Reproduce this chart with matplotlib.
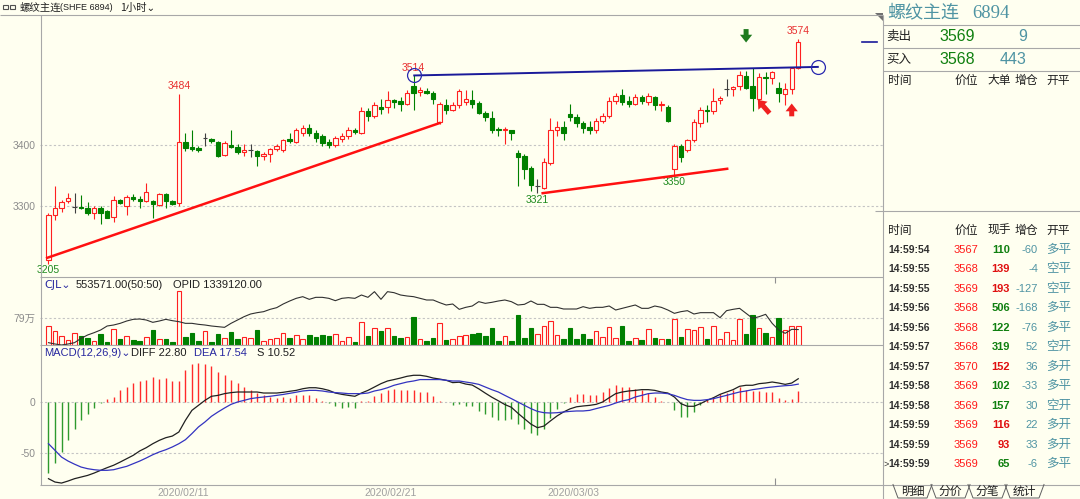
import matplotlib
matplotlib.use("Agg")
import matplotlib.pyplot as plt
import numpy as np

plt.rcParams["font.family"] = ["Liberation Sans", "Noto Sans CJK SC", "DejaVu Sans"]

W, H = 1080, 499
BG = "#FFFFF0"
RED = "#FF2020"
GREEN = "#008000"
DOJI = "#404040"
GRAY = "#8C8C8C"
LINE = "#A8A8A8"
TEAL = "#4F94A3"
NAVY = "#2828A0"

# 1-hour candles, rebar main contract
opens = [3212, 3285, 3296, 3308, 3298, 3298, 3296, 3288, 3296, 3291,
         3282, 3310, 3300, 3314, 3312, 3308, 3308, 3302, 3320, 3308,
         3305, 3405, 3396, 3395, 3411, 3410, 3405, 3384, 3400, 3396,
         3388, 3392, 3390, 3382, 3385, 3393, 3392, 3410, 3405, 3420,
         3428, 3420, 3414, 3405, 3400, 3410, 3414, 3425, 3420, 3455,
         3448, 3463, 3463, 3474, 3472, 3467, 3497, 3487, 3489, 3486,
         3437, 3466, 3458, 3466, 3471, 3473, 3469, 3452, 3444, 3427,
         3424, 3425, 3387, 3382, 3363, 3332, 3330, 3370, 3424, 3430,
         3450, 3446, 3436, 3430, 3425, 3440, 3448, 3472, 3482, 3472,
         3468, 3478, 3470, 3478, 3465, 3462, 3360, 3398, 3392, 3409,
         3436, 3458, 3456, 3473, 3492, 3491, 3497, 3513, 3496, 3476,
         3512, 3510, 3494, 3484, 3492, 3526]
highs = [3288, 3332, 3310, 3322, 3321, 3318, 3307, 3300, 3300, 3293,
         3316, 3312, 3318, 3320, 3316, 3338, 3310, 3322, 3322, 3310,
         3484, 3420, 3425, 3398, 3420, 3412, 3407, 3406, 3425, 3402,
         3402, 3402, 3392, 3388, 3395, 3402, 3410, 3420, 3428, 3432,
         3435, 3424, 3418, 3410, 3415, 3420, 3430, 3428, 3462, 3460,
         3470, 3476, 3488, 3476, 3478, 3490, 3514, 3495, 3493, 3488,
         3470, 3475, 3470, 3492, 3490, 3490, 3472, 3456, 3456, 3430,
         3430, 3425, 3392, 3385, 3366, 3345, 3378, 3444, 3440, 3440,
         3468, 3450, 3440, 3440, 3445, 3452, 3478, 3485, 3492, 3480,
         3484, 3482, 3485, 3480, 3472, 3465, 3402, 3402, 3410, 3443,
         3462, 3466, 3493, 3480, 3509, 3497, 3522, 3522, 3526, 3518,
         3520, 3521, 3503, 3501, 3526, 3574]
lows = [3205, 3277, 3290, 3305, 3289, 3295, 3285, 3278, 3270, 3280,
        3274, 3303, 3285, 3308, 3296, 3307, 3280, 3300, 3297, 3301,
        3300, 3390, 3390, 3389, 3398, 3404, 3380, 3382, 3395, 3385,
        3382, 3380, 3366, 3375, 3372, 3390, 3388, 3404, 3403, 3415,
        3415, 3405, 3398, 3395, 3397, 3405, 3410, 3418, 3418, 3440,
        3445, 3450, 3452, 3460, 3455, 3465, 3457, 3480, 3483, 3468,
        3435, 3450, 3455, 3460, 3465, 3460, 3450, 3440, 3420, 3415,
        3402, 3408, 3333, 3345, 3324, 3321, 3328, 3368, 3415, 3408,
        3440, 3430, 3420, 3418, 3420, 3436, 3445, 3468, 3466, 3462,
        3465, 3468, 3466, 3458, 3455, 3438, 3350, 3372, 3388, 3405,
        3430, 3437, 3450, 3468, 3480, 3480, 3490, 3492, 3456, 3470,
        3484, 3500, 3470, 3465, 3484, 3524]
closes = [3285, 3296, 3307, 3313, 3298, 3296, 3288, 3296, 3289, 3281,
          3310, 3305, 3314, 3311, 3308, 3323, 3303, 3320, 3308, 3304,
          3405, 3395, 3393, 3391, 3411, 3406, 3382, 3403, 3397, 3388,
          3392, 3392, 3382, 3385, 3393, 3398, 3408, 3406, 3425, 3428,
          3420, 3412, 3404, 3400, 3412, 3415, 3425, 3422, 3455, 3448,
          3465, 3459, 3474, 3470, 3468, 3485, 3486, 3490, 3485, 3475,
          3468, 3458, 3466, 3488, 3475, 3468, 3452, 3446, 3424, 3424,
          3426, 3419, 3381, 3361, 3334, 3332, 3372, 3424, 3430, 3419,
          3446, 3436, 3428, 3425, 3440, 3448, 3472, 3480, 3470, 3468,
          3478, 3472, 3480, 3465, 3468, 3440, 3398, 3380, 3408, 3438,
          3457, 3456, 3472, 3477, 3492, 3495, 3514, 3494, 3477, 3512,
          3510, 3520, 3485, 3492, 3526, 3569]

# volume (10k lots) and open interest (10k lots)
volume = [56, 40, 25, 15, 35, 25, 20, 13, 33, 10,
          47, 18, 27, 15, 12, 22, 43, 18, 18, 10,
          158, 22, 35, 13, 42, 9, 33, 20, 38, 17,
          23, 20, 43, 12, 18, 20, 35, 20, 30, 19,
          30, 23, 30, 25, 32, 13, 23, 8, 66, 25,
          49, 40, 49, 25, 20, 22, 81, 19, 13, 20,
          64, 15, 17, 25, 28, 32, 35, 25, 50, 13,
          27, 13, 89, 20, 50, 32, 56, 71, 30, 18,
          50, 17, 32, 18, 40, 23, 52, 20, 55, 13,
          20, 15, 47, 20, 18, 18, 77, 23, 47, 45,
          53, 18, 55, 18, 38, 14, 75, 31, 89, 50,
          36, 23, 80, 43, 57, 55]
opid = [122.1, 120.9, 120.0, 120.9, 122.1, 126.0, 129.0, 131.1, 133.5, 137.1,
        138.0, 139.5, 141.6, 143.1, 143.4, 142.5, 140.4, 141.6, 143.1, 141.9,
        141.0, 139.5, 139.5, 138.6, 138.0, 137.1, 136.5, 135.9, 139.5, 142.5,
        145.5, 147.9, 149.1, 150.0, 152.1, 153.6, 156.9, 159.6, 162.0, 163.5,
        161.1, 162.9, 162.9, 162.0, 159.9, 162.0, 162.6, 162.0, 165.0, 162.9,
        168.0, 161.1, 168.0, 167.1, 165.0, 164.1, 163.5, 162.0, 160.5, 160.5,
        158.1, 156.0, 156.9, 152.1, 153.9, 155.1, 159.0, 157.5, 158.4, 159.6,
        160.5, 159.0, 156.0, 156.6, 159.6, 156.6, 156.6, 153.9, 153.9, 152.4,
        152.4, 152.4, 154.5, 153.0, 153.9, 153.9, 155.1, 151.5, 153.0, 154.5,
        156.0, 153.0, 153.0, 155.1, 153.9, 151.5, 148.5, 150.0, 150.9, 147.9,
        149.1, 149.1, 149.1, 144.6, 150.9, 152.1, 153.0, 148.5, 144.0, 145.5,
        147.6, 139.5, 133.5, 130.5, 134.1, 133.9]

# MACD(12,26,9)
diff = [-75.2, -78.5, -79.5, -77.5, -75.2, -73.6, -72.0, -69.7, -67.0, -64.4,
        -62.0, -58.9, -55.6, -52.3, -48.0, -44.8, -40.9, -37.6, -35.0, -33.4,
        -29.4, -18.0, -8.2, -3.3, 1.6, 5.6, 6.5, 8.2, 9.2, 9.8,
        9.8, 9.8, 9.8, 8.8, 8.8, 8.8, 9.5, 10.5, 11.4, 13.0,
        14.0, 14.0, 13.0, 11.4, 8.8, 7.5, 6.5, 5.6, 8.8, 11.4,
        14.7, 18.0, 20.6, 22.0, 23.5, 25.2, 26.2, 26.2, 25.2, 23.5,
        22.5, 21.3, 19.0, 19.4, 17.6, 16.6, 12.9, 8.7, 4.7, 1.2,
        -2.5, -5.2, -11.0, -16.4, -21.7, -25.2, -23.6, -18.5, -13.7, -9.8,
        -6.7, -4.7, -3.9, -3.3, -2.3, 0.0, 4.2, 8.2, 9.8, 10.8,
        11.4, 12.1, 12.1, 11.4, 9.8, 8.8, 4.9, -1.6, -4.2, -4.2,
        -1.6, 1.6, 4.2, 7.5, 9.8, 12.1, 15.4, 16.4, 16.4, 18.0,
        18.6, 19.6, 18.6, 17.3, 18.6, 22.8]
dea = [-40.9, -47.4, -54.0, -57.9, -61.0, -63.8, -65.4, -66.4, -67.0, -67.0,
       -66.4, -64.7, -63.1, -60.5, -57.9, -54.9, -51.7, -49.0, -46.8, -44.1,
       -40.9, -37.0, -31.0, -24.5, -19.6, -14.0, -9.8, -5.9, -2.3, 0.0,
       1.6, 3.3, 4.2, 4.9, 5.6, 6.5, 7.4, 8.5, 9.6, 10.8,
       11.4, 11.4, 10.8, 9.8, 9.2, 8.8, 8.2, 8.2, 8.2, 8.8,
       10.8, 12.1, 14.0, 16.4, 18.0, 19.6, 20.6, 22.0, 22.0, 22.0,
       22.0, 21.3, 20.6, 20.6, 19.6, 18.6, 17.3, 14.7, 12.1, 9.8,
       6.5, 3.3, 0.0, -3.3, -6.5, -9.2, -10.5, -10.8, -10.5, -9.8,
       -9.2, -8.8, -8.8, -8.2, -6.5, -4.9, -3.3, -1.0, 1.0, 2.3,
       4.9, 6.5, 8.2, 8.8, 8.8, 8.2, 6.5, 4.2, 2.3, 1.6,
       1.6, 2.3, 3.3, 4.9, 6.5, 8.2, 9.8, 10.8, 12.1, 13.0,
       14.0, 14.7, 15.4, 16.0, 16.4, 17.54]
macd_s = [-69.6, -60.0, -49.0, -37.0, -26.0, -18.0, -11.4, -5.9, -1.0, 2.6,
          4.9, 11.4, 14.7, 18.6, 21.0, 22.0, 24.5, 22.9, 23.5, 21.0,
          20.6, 31.0, 37.6, 38.6, 37.0, 35.3, 29.4, 26.8, 21.9, 18.6,
          14.7, 12.1, 8.8, 6.5, 4.9, 4.2, 4.9, 4.2, 6.5, 6.5,
          6.5, 4.2, 1.0, -1.0, -4.2, -5.9, -4.9, -5.9, 0.5, 1.0,
          5.9, 8.8, 12.1, 13.0, 11.4, 12.1, 12.1, 9.8, 9.8, 5.6,
          1.0, 0.3, -3.3, -2.3, -3.9, -3.9, -8.8, -12.0, -14.7, -17.3,
          -18.0, -17.0, -21.9, -26.2, -30.4, -32.0, -26.2, -15.4, -6.5, -1.0,
          4.9, 8.2, 7.5, 6.5, 6.5, 9.8, 14.0, 16.4, 14.7, 14.7,
          13.0, 11.4, 8.8, 4.9, 1.0, 0.3, -8.2, -14.7, -14.7, -9.8,
          -3.3, 1.6, 4.9, 7.5, 8.8, 12.1, 14.7, 12.1, 10.8, 10.8,
          9.8, 9.8, 4.2, 1.6, 3.3, 10.52]

date_labels = ["2020/02/11", "2020/02/21", "2020/03/03"]
date_pos = [20.7, 52.5, 80.5]
price_ticks = [3300, 3400]
vol_ticks = [79]
macd_ticks = [-50, 0]

# trend lines and neck line: (bar index, price)
support_1 = [(-0.2, 3215), (60.0, 3436)]
support_2 = [(75.8, 3321), (104.1, 3361)]
neck_line = [(56.1, 3514), (118.0, 3528)]

# right-hand quote panel
bid_ask = [("卖出", 3569, 9), ("买入", 3568, 443)]
tick_times = ["14:59:54", "14:59:55", "14:59:55", "14:59:56", "14:59:56", "14:59:57",
              "14:59:57", "14:59:58", "14:59:58", "14:59:59", "14:59:59", "14:59:59"]
tick_prices = [3567, 3568, 3569, 3568, 3568, 3568, 3570, 3569, 3569, 3569, 3569, 3569]
tick_lots = [110, 139, 193, 506, 122, 319, 152, 102, 157, 116, 93, 65]
tick_buy = [False, True, True, False, False, False, True, False, False, True, True, False]
tick_oi = [-60, -4, -127, -168, -76, 52, 36, -33, 30, 22, 33, -6]
tick_kind = ["多平", "空平", "空平", "多平", "多平", "空开", "多开", "多平", "空开", "多开", "多开", "多平"]
tabs = ["明细", "分价", "分笔", "统计"]

opens, highs, lows, closes = map(np.array, (opens, highs, lows, closes))
x = np.arange(len(closes))
XLIM = (-1.3, 128.0)

fig = plt.figure(figsize=(W / 100, H / 100), dpi=100, facecolor=BG)


def px_axes(x0, y0, x1, y1):
    ax = fig.add_axes([x0 / W, 1 - y1 / H, (x1 - x0) / W, (y1 - y0) / H])
    ax.set_facecolor(BG)
    for s in ax.spines.values():
        s.set_visible(False)
    ax.set_xlim(*XLIM)
    ax.set_xticks([])
    ax.tick_params(axis="y", length=0, pad=3, labelsize=7.5, labelcolor=GRAY)
    return ax


def dashed(ax, y):
    ax.axhline(y, color="#C4C4C4", lw=0.8, ls=(0, (2, 2)), zorder=0)


# ---- price panel
ax_p = px_axes(40, 15, 883, 277)
ax_p.set_ylim(3183.6, 3613.1)
ax_p.set_yticks(price_ticks, [str(t) for t in price_ticks])
for t in price_ticks:
    dashed(ax_p, t)

rising = closes > opens
falling = closes < opens
col = np.where(rising, RED, np.where(falling, GREEN, DOJI))
face = np.where(rising, BG, col)
ax_p.vlines(x, lows, highs, colors=col, lw=0.8, zorder=2)
ax_p.bar(x, np.maximum(np.abs(closes - opens), 0.01), bottom=np.minimum(opens, closes),
         width=0.68, color=face, edgecolor=col, lw=0.8, zorder=3)

for pts, c in ((support_1, "#FF1010"), (support_2, "#FF1010")):
    ax_p.plot(*zip(*pts), color=c, lw=1.8, zorder=4)
ax_p.plot(*zip(*neck_line), color="#1A1A9A", lw=1.4, zorder=4)
ax_p.plot(*zip(*neck_line), ls="none", marker="o", ms=10, mfc="none", mec="#2A2AB0", mew=0.9, zorder=5)

imax = [20, 56, 115]
for i in imax:
    ax_p.annotate(str(highs[i]), (i, highs[i]), xytext=(0, 2), textcoords="offset points",
                  ha="center", va="bottom", fontsize=7.5, color="#E83030")
for i in [0, 75, 96]:
    ax_p.annotate(str(lows[i]), (i, lows[i]), xytext=(0, -1), textcoords="offset points",
                  ha="center", va="top", fontsize=7.5, color="#1E8A1E")

arrow = "simple,head_length=0.7,head_width=1.1,tail_width=0.45"
arrow_kw = dict(arrowstyle=arrow, mutation_scale=8, lw=0, shrinkA=0, shrinkB=0)
ax_p.annotate("", xy=(107.0, 3568), xytext=(107.0, 3590),
              arrowprops=dict(color="#1E7A1E", **arrow_kw))
ax_p.annotate("", xy=(108.8, 3474), xytext=(110.6, 3452),
              arrowprops=dict(color="#F02020", **arrow_kw))
ax_p.annotate("", xy=(114.0, 3468), xytext=(114.0, 3447),
              arrowprops=dict(color="#F02020", **arrow_kw))
ax_p.plot([124.8, 127.1], [closes[-1], closes[-1]], color="#1A1A9A", lw=1.2)

# ---- volume panel
ax_v = px_axes(40, 277, 883, 345)
ax_v.set_ylim(0, 199)
ax_v.set_yticks(vol_ticks, [f"{t}万" for t in vol_ticks])
dashed(ax_v, vol_ticks[0])
vcol = np.where(closes >= opens, RED, GREEN)
vface = np.where(closes >= opens, BG, GREEN)
ax_v.bar(x, volume, width=0.7, color=vface, edgecolor=vcol, lw=0.8, zorder=2)
ax_oi = ax_v.twinx()
ax_oi.set_ylim(120, 181.2)
ax_oi.set_axis_off()
ax_oi.plot(x, opid, color="#303030", lw=0.8)

# ---- MACD panel
ax_m = px_axes(40, 345, 883, 485)
ax_m.set_ylim(-81.4, 55.9)
ax_m.set_yticks(macd_ticks, [str(t) for t in macd_ticks])
for t in macd_ticks:
    dashed(ax_m, t)
ax_m.vlines(x, 0, macd_s, colors=np.where(np.array(macd_s) >= 0, "#FF2A2A", "#2E9A2E"), lw=1.0, zorder=2)
ax_m.plot(x, diff, color="#202020", lw=0.9, zorder=3)
ax_m.plot(x, dea, color="#3333C0", lw=0.9, zorder=3)

# ---- chrome in pixel coordinates
ov = fig.add_axes([0, 0, 1, 1])
ov.set_xlim(0, W)
ov.set_ylim(H, 0)
ov.axis("off")
ov.patch.set_alpha(0)


def hline(y, x0, x1, c=LINE, lw=0.8):
    ov.plot([x0, x1], [y, y], color=c, lw=lw, solid_capstyle="butt")


def vline(xp, y0, y1, c=LINE, lw=0.8):
    ov.plot([xp, xp], [y0, y1], color=c, lw=lw, solid_capstyle="butt")


hline(14.5, 0, 883)
vline(40.5, 14.5, 485)
hline(277, 40, 883)
hline(345, 40, 883)
hline(485, 40, 883)
vline(883, 14.5, 499)
vline(775, 277, 283, c="#909090")
vline(775, 478, 485, c="#909090")

for lbl, p in zip(date_labels, date_pos):
    xp = 40 + (p - XLIM[0]) / (XLIM[1] - XLIM[0]) * 843
    ov.text(xp, 492.5, lbl, ha="center", va="center", fontsize=7.5, color="#A0A0A0")

# header
ov.add_patch(plt.Rectangle((3, 5), 5, 4, fill=False, ec="#505050", lw=0.8))
ov.add_patch(plt.Rectangle((10, 5), 5, 4, fill=False, ec="#505050", lw=0.8))
ov.text(20, 7.5, "螺纹主连", fontsize=7.5, va="center", color="#202020")
ov.text(60, 7.5, "(SHFE 6894)", fontsize=6.5, va="center", color="#202020")
ov.text(120, 7.5, "1小时⌄", fontsize=7.5, va="center", color="#202020",
        family=["Noto Sans CJK SC", "DejaVu Sans"])

# indicator captions
ov.text(44, 284.5, "CJL⌄", fontsize=8, va="center", color=NAVY, family=["DejaVu Sans"])
ov.text(76, 284.5, "553571.00(50:50)", fontsize=8, va="center", color="#202020")
ov.text(173, 284.5, "OPID 1339120.00", fontsize=8, va="center", color="#202020")
ov.text(44, 353.5, "MACD(12,26,9)⌄", fontsize=8, va="center", color=NAVY, family=["Liberation Sans", "DejaVu Sans"])
ov.text(131, 353.5, "DIFF 22.80", fontsize=8, va="center", color="#202020")
ov.text(194, 353.5, "DEA 17.54", fontsize=8, va="center", color=NAVY)
ov.text(257, 353.5, "S 10.52", fontsize=8, va="center", color="#202020")

# right quote panel
ov.add_patch(plt.Polygon([(875, 13), (883, 13), (883, 21)], color="#707070", lw=0))
ov.text(887, 13, "螺纹主连", fontsize=13, va="center", color=TEAL)
ov.text(972, 13.5, "6894", fontsize=13.5, va="center", color=TEAL, family=["Liberation Serif"])
for yy in (24.5, 47.5, 71):
    hline(yy, 883, 1080)
for k, (name, price, lots) in enumerate(bid_ask):
    yy = 36.5 + k * 23.3
    ov.text(886, yy, name, fontsize=9, va="center", color="#202020")
    ov.text(939, yy, str(price), fontsize=11.5, va="center", color="#108010")
    ov.text(1027, yy, str(lots), fontsize=11.5, va="center", ha="right", color=TEAL)
heads_1 = [("时间", 888), ("价位", 955), ("大单", 987), ("增仓", 1015), ("开平", 1046)]
for t, xp in heads_1:
    ov.text(xp, 80.5, t, fontsize=8.5, va="center", color="#202020")
hline(210.5, 875, 1080)
heads_2 = [("时间", 888), ("价位", 955), ("现手", 988), ("增仓", 1015), ("开平", 1046)]
for t, xp in heads_2:
    ov.text(xp, 231, t, fontsize=8.5, va="center", color="#202020")

for k in range(len(tick_times)):
    yy = 250 + k * 19.45
    ov.text(888, yy, tick_times[k], fontsize=7.5, weight="bold", va="center", color="#303030")
    ov.text(966, yy, str(tick_prices[k]), fontsize=8, va="center", ha="center", color="#FF1A1A")
    ov.text(1010, yy, str(tick_lots[k]), fontsize=8, weight="bold", va="center", ha="right",
            color="#E01010" if tick_buy[k] else "#108010")
    ov.text(1038, yy, str(tick_oi[k]), fontsize=8, va="center", ha="right", color=TEAL)
    ov.text(1046, yy, tick_kind[k], fontsize=9, va="center", color=TEAL)
ov.text(884, 250 + 11 * 19.45, ">", fontsize=6.5, va="center", color="#303030")

# bottom tabs
hline(484.5, 883, 1080)
tab_x = [893, 931, 968, 1005]
for k, t in enumerate(tabs):
    x0 = tab_x[k]
    ov.plot([x0, x0 + 5, x0 + 34, x0 + 39], [484.5, 498, 498, 484.5], color="#606060", lw=0.7)
    ov.text(x0 + 19.5, 491.5, t, fontsize=8.5, ha="center", va="center", color="#202020")

fig.savefig("out.png", dpi=100, facecolor=BG)
